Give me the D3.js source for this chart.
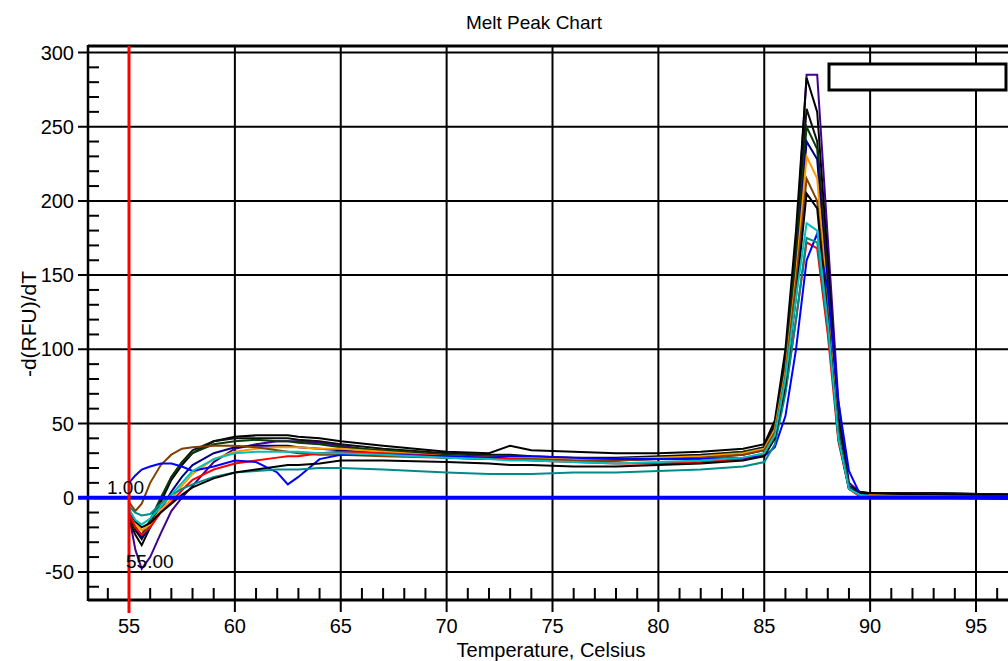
<!DOCTYPE html>
<html>
  <head>
    <script src="https://d3js.org/d3.v7.min.js" charset="utf-8"></script>
    <meta charset="UTF-8">
    <title>Melt Peak Chart</title>
    <style>
      body { margin: 0; background: #fff; }
      text { font-family: "Liberation Sans", Arial, sans-serif; fill: #000; }
    </style>
  </head>
  <body>
    <svg class="chart"></svg>
    <script type="text/javascript">

      var temps = [55, 55.3, 55.6, 56, 56.5, 57, 57.5, 58, 59, 60, 61, 62, 62.5, 63, 64, 65, 67, 70, 72, 73,
                   74, 76, 78, 80, 82, 84, 85, 85.5, 86, 86.5, 87, 87.5, 88, 88.5, 89, 89.5, 90, 93, 97];

      var seriesColors = ["#400090", "#000000", "#101010", "#0a3a0a", "#000080", "#ff9900",
                          "#804000", "#ff0000", "#0000ff", "#008b8b", "#000000", "#00bfbf"];

      var purple = [-12, -35, -48, -40, -24, -9, 0, 8, 24, 33, 36, 38, 38, 38, 37, 35, 31, 28, 27, 27,
                    26, 25, 25, 27, 28, 30, 34, 50, 95, 170, 285, 285, 175, 65, 10, 4, 3, 3, 2];
      var blackA = [-15, -25, -32, -20, -3, 12, 22, 30, 38, 41, 42, 42, 42, 41, 40, 38, 35, 31, 30, 35,
                    32, 31, 30, 30, 31, 33, 36, 52, 100, 180, 283, 260, 160, 55, 8, 4, 3, 3, 2];
      var blackB = [-12, -22, -28, -18, -2, 14, 24, 32, 38, 40, 40, 40, 40, 39, 38, 36, 33, 30, 29, 29,
                    28, 27, 27, 28, 29, 31, 34, 48, 92, 170, 262, 240, 150, 50, 7, 3, 3, 3, 2];
      var green  = [-10, -20, -25, -15, 0, 14, 24, 30, 36, 38, 39, 38, 38, 37, 36, 34, 32, 29, 28, 28,
                    27, 26, 26, 27, 28, 31, 33, 47, 88, 160, 250, 235, 145, 48, 7, 3, 2, 2, 1];
      var navy   = [-10, -20, -27, -20, -8, 4, 14, 22, 30, 34, 35, 35, 35, 34, 33, 32, 30, 27, 26, 26,
                    26, 25, 25, 26, 27, 29, 32, 45, 85, 150, 240, 228, 140, 45, 7, 3, 2, 2, 1];
      var orange = [-8, -18, -22, -18, -8, -1, 8, 16, 26, 31, 33, 34, 34, 34, 33, 33, 31, 28, 27, 27,
                    27, 26, 26, 27, 28, 30, 33, 46, 85, 150, 230, 215, 130, 42, 6, 2, 2, 1, 1];
      var brown  = [-3, -9, -4, 10, 22, 29, 33, 34, 35, 35, 34, 32, 31, 30, 29, 29, 28, 27, 26, 26,
                    26, 25, 25, 26, 27, 29, 32, 44, 82, 145, 215, 200, 125, 42, 6, 2, 1, 1, 0];
      var red    = [-10, -20, -25, -20, -10, -3, 5, 12, 19, 23, 25, 27, 28, 28, 30, 31, 30, 28, 27, 26,
                    25, 24, 23, 23, 24, 26, 29, 40, 72, 120, 172, 168, 110, 38, 6, 1, 1, 0, 0];
      var blue   = [10, 15, 19, 21, 23, 23, 21, 18, 21, 25, 24, 17, 9, 14, 26, 29, 29, 28, 27, 28,
                    28, 27, 26, 26, 26, 27, 28, 34, 55, 100, 160, 178, 140, 65, 18, 3, 1, 0, -1];
      var teal   = [-6, -10, -12, -11, -4, 2, 6, 9, 14, 17, 18, 19, 19, 19, 20, 20, 19, 17, 16, 16,
                    16, 17, 17, 18, 19, 21, 24, 36, 70, 120, 175, 172, 115, 42, 7, 2, 1, 1, 0];
      var blackC = [-8, -16, -20, -17, -10, -4, 2, 7, 13, 17, 19, 21, 22, 22, 23, 25, 25, 24, 23, 22,
                    22, 21, 21, 22, 23, 25, 28, 40, 76, 135, 205, 195, 120, 40, 6, 3, 3, 2, 2];
      var cyan   = [-8, -15, -18, -14, -6, 2, 10, 18, 26, 30, 31, 31, 31, 31, 30, 30, 29, 27, 26, 25,
                    25, 24, 23, 24, 25, 27, 30, 42, 80, 135, 185, 180, 118, 40, 6, 2, 1, 1, 0];

      var series = [purple, blackA, blackB, green, navy, orange, brown, red, blue, teal, blackC, cyan];

      var xMajor = [55, 60, 65, 70, 75, 80, 85, 90, 95];
      var yMajor = [-50, 0, 50, 100, 150, 200, 250, 300];

      var width = 1008,
          height = 661,
          plotLeft = 88,
          plotTop = 46,
          plotBottom = 600,
          plotRight = 1010;

      var x = d3.scaleLinear().domain([55, 95]).range([129, 976]);
      var y = d3.scaleLinear().domain([0, 250]).range([497.7, 126.7]);

      var chart = d3.select(".chart")
          .attr("width", width)
          .attr("height", height);

      chart.append("defs").append("clipPath")
          .attr("id", "plot")
        .append("rect")
          .attr("x", plotLeft).attr("y", plotTop)
          .attr("width", plotRight - plotLeft).attr("height", plotBottom - plotTop);

      // grid
      var grid = chart.append("g").attr("class", "grid")
          .attr("stroke", "#000").attr("stroke-width", 2);

      grid.selectAll("line.v")
          .data(xMajor.filter(function(d) { return d != 55; }))
          .enter().append("line")
          .attr("class", "v")
          .attr("x1", function(d) { return x(d); })
          .attr("x2", function(d) { return x(d); })
          .attr("y1", plotTop).attr("y2", plotBottom + 12);

      grid.selectAll("line.h")
          .data(yMajor.filter(function(d) { return d != 0; }))
          .enter().append("line")
          .attr("class", "h")
          .attr("x1", plotLeft - 10).attr("x2", plotRight)
          .attr("y1", function(d) { return y(d); })
          .attr("y2", function(d) { return y(d); });

      // frame
      chart.append("line").attr("stroke", "#000").attr("stroke-width", 3)
          .attr("x1", plotLeft).attr("x2", plotRight).attr("y1", plotTop).attr("y2", plotTop);
      chart.append("line").attr("stroke", "#000").attr("stroke-width", 2.5)
          .attr("x1", plotLeft).attr("x2", plotLeft).attr("y1", plotTop - 1).attr("y2", plotBottom + 1);
      chart.append("line").attr("stroke", "#000").attr("stroke-width", 3)
          .attr("x1", plotLeft).attr("x2", plotRight).attr("y1", plotBottom).attr("y2", plotBottom);

      // minor ticks
      chart.append("g").selectAll("line")
          .data(d3.range(54, 97).filter(function(d) { return d % 5 != 0; }))
          .enter().append("line")
          .attr("stroke", "#000").attr("stroke-width", 2)
          .attr("x1", function(d) { return x(d); })
          .attr("x2", function(d) { return x(d); })
          .attr("y1", plotBottom).attr("y2", plotBottom - 12);

      chart.append("g").selectAll("line")
          .data(d3.range(-60, 301, 10).filter(function(d) { return d % 50 != 0; }))
          .enter().append("line")
          .attr("stroke", "#000").attr("stroke-width", 2)
          .attr("x1", plotLeft).attr("x2", plotLeft + 11)
          .attr("y1", function(d) { return y(d); })
          .attr("y2", function(d) { return y(d); });

      // tick labels
      chart.append("g").selectAll("text")
          .data(xMajor)
          .enter().append("text")
          .attr("x", function(d) { return x(d); })
          .attr("y", 633)
          .attr("text-anchor", "middle")
          .style("font-size", "20px")
          .text(function(d) { return d; });

      chart.append("g").selectAll("text")
          .data(yMajor)
          .enter().append("text")
          .attr("x", 74)
          .attr("y", function(d) { return y(d) + 7; })
          .attr("text-anchor", "end")
          .style("font-size", "20px")
          .text(function(d) { return d; });

      // curves
      var line = d3.line()
          .x(function(d, i) { return x(temps[i]); })
          .y(function(d) { return y(d); });

      chart.append("g")
          .attr("clip-path", "url(#plot)")
          .selectAll("path")
          .data(series)
          .enter().append("path")
          .attr("fill", "none")
          .attr("stroke", function(d, i) { return seriesColors[i]; })
          .attr("stroke-width", 2)
          .attr("stroke-linejoin", "miter")
          .attr("d", line);

      // zero line and threshold marker
      chart.append("line")
          .attr("stroke", "#0000ff").attr("stroke-width", 4)
          .attr("x1", plotLeft - 10).attr("x2", plotRight)
          .attr("y1", y(0)).attr("y2", y(0));

      chart.append("line")
          .attr("stroke", "#ff0000").attr("stroke-width", 3)
          .attr("x1", x(55)).attr("x2", x(55))
          .attr("y1", plotTop).attr("y2", plotBottom + 13);

      chart.append("text").attr("x", 107).attr("y", 494)
          .style("font-size", "19px").text("1.00");
      chart.append("text").attr("x", 126).attr("y", 568)
          .style("font-size", "19px").text("55.00");

      // empty legend box
      chart.append("rect")
          .attr("x", 829).attr("y", 64)
          .attr("width", 177).attr("height", 26)
          .attr("fill", "#fff").attr("stroke", "#000").attr("stroke-width", 3);

      // titles
      chart.append("text")
          .attr("x", 534).attr("y", 29)
          .attr("text-anchor", "middle")
          .style("font-size", "19px")
          .text("Melt Peak Chart");

      chart.append("text")
          .attr("x", 551).attr("y", 657)
          .attr("text-anchor", "middle")
          .style("font-size", "20px")
          .text("Temperature, Celsius");

      chart.append("text")
          .attr("transform", "translate(36,324) rotate(-90)")
          .attr("text-anchor", "middle")
          .style("font-size", "21px")
          .text("-d(RFU)/dT");

    </script>
  </body>
</html>
